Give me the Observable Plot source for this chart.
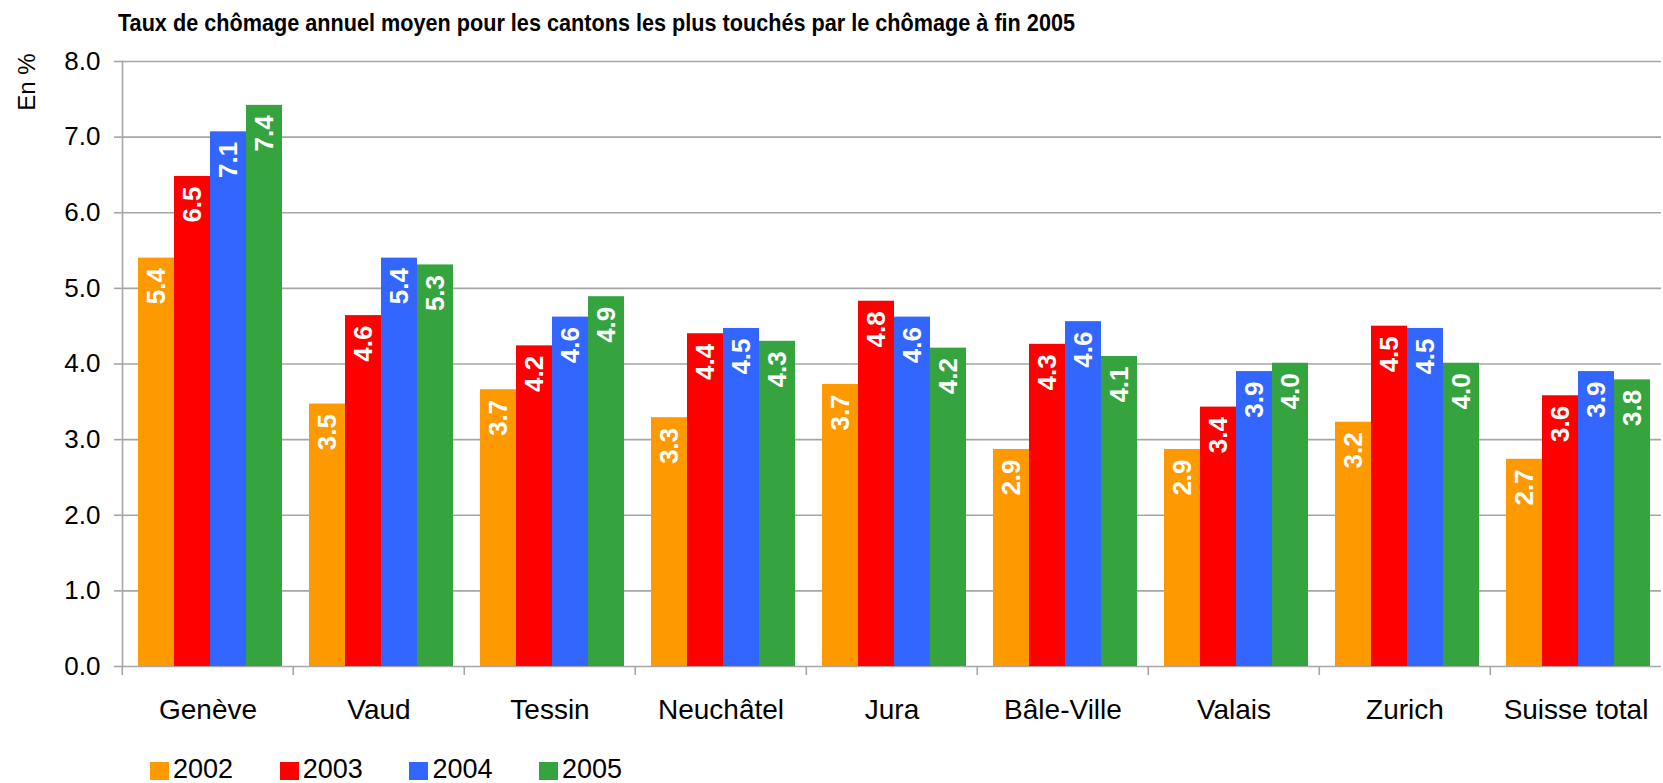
<!DOCTYPE html>
<html>
<head>
<meta charset="utf-8">
<script src="https://cdn.jsdelivr.net/npm/d3@7"></script>
<script src="https://cdn.jsdelivr.net/npm/@observablehq/plot@0.6"></script>
<style>
  html, body { margin: 0; padding: 0; background: #fff; }
  #wrap { position: relative; width: 1663px; height: 783px; overflow: hidden;
          font-family: "Liberation Sans", Arial, sans-serif; color: #000; }
  #title { position: absolute; left: 118px; top: 11px; font-weight: bold; font-size: 24px;
           line-height: 24px; white-space: nowrap; transform-origin: 0 0;
           font-family: "Liberation Sans Narrow", "Arial Narrow", "Liberation Sans", Arial, sans-serif; }
  #ylabel { position: absolute; left: -3px; top: 70px; width: 60px; text-align: center;
            font-size: 24px; line-height: 24px; transform: rotate(-90deg); white-space: nowrap; }
  #legend { position: absolute; left: 150px; top: 756px; display: flex; }
  .item { width: 129.7px; font-size: 27px; line-height: 27px; white-space: nowrap; }
  .sw { display: inline-block; width: 19px; height: 18px; margin-right: 4px; vertical-align: -2px; }
</style>
</head>
<body>
<div id="wrap">
  <div id="chart"></div>
  <div id="title"></div>
  <div id="ylabel"></div>
  <div id="legend"></div>
</div>
<script>
// ---- data ----
const titleText = "Taux de chômage annuel moyen pour les cantons les plus touchés par le chômage à fin 2005";
const yLabel = "En %";
const cantons = ["Genève", "Vaud", "Tessin", "Neuchâtel", "Jura", "Bâle-Ville", "Valais", "Zurich", "Suisse total"];
const years = ["2002", "2003", "2004", "2005"];
const v2002 = [5.40, 3.47, 3.66, 3.29, 3.73, 2.87, 2.87, 3.23, 2.74];
const v2003 = [6.48, 4.64, 4.24, 4.40, 4.83, 4.26, 3.43, 4.50, 3.58];
const v2004 = [7.07, 5.40, 4.62, 4.47, 4.62, 4.56, 3.90, 4.47, 3.90];
const v2005 = [7.42, 5.31, 4.89, 4.30, 4.21, 4.10, 4.01, 4.01, 3.79];
const yTicks = [0, 1, 2, 3, 4, 5, 6, 7, 8];
const colors = ["#FF9900", "#FF0000", "#3366FF", "#35A43E"];

const series = [v2002, v2003, v2004, v2005];
const data = cantons.flatMap((c, i) => years.map((y, j) => ({canton: c, year: y, value: series[j][i]})));
const fmt = d3.format(".1f");
const gray = "#a6a6a6";

const W = 1663, H = 783, mL = 120, mR = 0, mT = 61, mB = 117;
const step = (W - mL - mR) / cantons.length;

const chart = Plot.plot({
  width: W, height: H,
  marginLeft: mL, marginRight: mR, marginTop: mT, marginBottom: mB,
  style: {fontFamily: "Liberation Sans, Arial, sans-serif", background: "white", color: "black"},
  fx: {domain: cantons, padding: 0, label: null},
  x: {domain: years, type: "band", paddingInner: 0, paddingOuter: 0.348, align: 0.6, axis: null},
  y: {domain: [0, 8], label: null},
  color: {domain: years, range: colors},
  marks: [
    Plot.gridY(yTicks, {stroke: gray, strokeOpacity: 1, strokeWidth: 1.6}),
    Plot.frame({anchor: "left", fx: () => cantons[0], stroke: gray, strokeWidth: 1.6}),
    Plot.barY(data, {fx: "canton", x: "year", y: "value", fill: "year", inset: 0}),
    Plot.text(data, {fx: "canton", x: "year", y: "value", text: d => fmt(d.value),
      rotate: -90, textAnchor: "end", dy: 10, fill: "white", fontWeight: "bold", fontSize: 26}),
    Plot.axisY(yTicks, {tickFormat: fmt, tickSize: 8, tickPadding: 14, fontSize: 26,
      stroke: gray, strokeWidth: 1.6, fill: "black", label: null}),
    Plot.axisFx({anchor: "bottom", tickSize: 0, tickPadding: 33, fontSize: 28, fill: "black", label: null}),
    Plot.axisFx({anchor: "bottom", tickSize: 9, tickFormat: () => "", dx: -step / 2,
      stroke: gray, strokeWidth: 1.6, label: null})
  ]
});
document.getElementById("chart").appendChild(chart);

// title, y label, legend
const t = document.getElementById("title");
t.textContent = titleText;
const tw = t.getBoundingClientRect().width;
t.style.transform = `scaleX(${957 / tw})`;
document.getElementById("ylabel").textContent = yLabel;

const legend = d3.select("#legend");
years.forEach((y, j) => {
  const it = legend.append("div").attr("class", "item");
  it.append("span").attr("class", "sw").style("background", colors[j]);
  it.append("span").text(y);
});
</script>
</body>
</html>
